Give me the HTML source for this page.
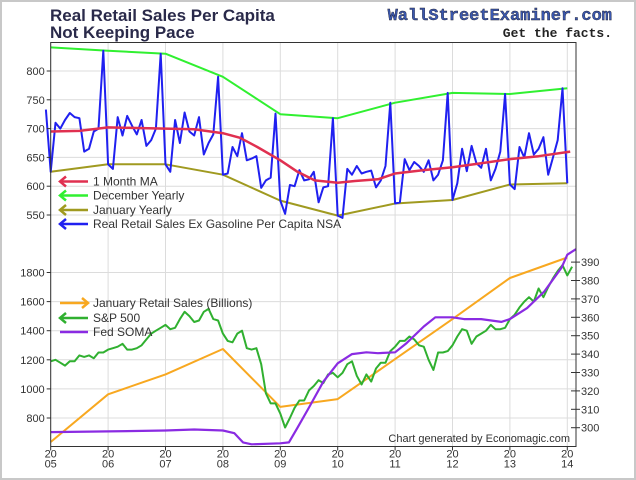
<!DOCTYPE html>
<html><head><meta charset="utf-8">
<style>
html,body{margin:0;padding:0;background:#fff;}
#wrap{position:relative;width:636px;height:480px;overflow:hidden;}
svg text{font-family:"Liberation Sans",sans-serif;}
</style></head>
<body>
<div id="wrap">
<svg id="chart" width="636" height="480" xmlns="http://www.w3.org/2000/svg">
<rect x="1" y="1" width="634" height="478" fill="#fff" stroke="#c8c8c8" stroke-width="2"/>
<text x="50" y="21" font-size="17" font-weight="bold" fill="#2a2a4a">Real Retail Sales Per Capita</text>
<text x="50" y="38" font-size="17" font-weight="bold" fill="#2a2a4a">Not Keeping Pace</text>
<text x="612" y="20" text-anchor="end" font-family="Liberation Mono,monospace" font-size="17" font-weight="bold" fill="#3a58b0" stroke="#223" stroke-width="0.4" style="font-family:'Liberation Mono',monospace">WallStreetExaminer.com</text>
<text x="612" y="37" text-anchor="end" font-size="13" font-weight="bold" fill="#222" style="font-family:'Liberation Mono',monospace">Get the facts.</text>
<g id="grid"></g>
<g id="series"></g>
<g id="axes"></g>
<g id="legend"></g>
<text x="570" y="442" text-anchor="end" font-size="11" fill="#333">Chart generated by Economagic.com</text>
</svg>
</div>
<script>
// ---- data ----
const yearLabels = ["05","06","07","08","09","10","11","12","13","14"];
const topTicks = [800,750,700,650,600,550];
const botLeftTicks = [1800,1600,1400,1200,1000,800];
const botRightTicks = [390,380,370,360,350,340,330,320,310,300];
const decYearly = [841,835,830,790,725,718,745,762,760,770];
const janYearly = [625,638,638,620,575,549,570,576,603,605];
const maTimes = [2005.0,2005.5,2006.0,2006.5,2007.0,2007.5,2008.0,2008.3,2008.6,2009.0,2009.3,2009.6,2010.0,2010.3,2010.7,2011.0,2011.5,2012.0,2012.5,2013.0,2013.5,2014.05];
const maValues = [695,696,702,701,700,699,692,684,668,645,625,610,606,609,612,622,628,633,640,647,652,660];
const retailMonthly = [733,
625,710,700,715,727,720,718,660,665,695,700,835,
638,630,720,688,722,705,690,715,670,680,700,830,
638,625,715,675,728,695,688,720,655,675,690,790,
620,622,668,652,692,645,648,652,597,610,615,726,
575,552,602,600,628,610,612,625,572,598,600,718,
549,545,630,620,635,622,625,627,598,610,635,745,
570,572,647,628,642,635,625,645,610,620,645,762,
576,605,665,626,670,640,632,665,610,630,660,760,
603,595,668,650,692,655,665,685,620,650,680,770,
605];
const janRetail = [635,963,1100,1274,876,930,1205,1480,1762,1903];
const spx = [1190,1200,1180,1160,1190,1190,1230,1220,1230,1210,1250,1250,
1270,1280,1290,1310,1270,1270,1280,1300,1340,1380,1400,1420,
1440,1410,1420,1480,1530,1500,1460,1470,1530,1550,1480,1470,
1380,1330,1320,1380,1400,1280,1270,1280,1170,970,900,900,
830,735,800,870,920,920,990,1020,1060,1040,1100,1110,
1080,1110,1170,1190,1090,1030,1100,1050,1140,1180,1180,1260,
1290,1330,1330,1360,1340,1300,1290,1200,1130,1250,1250,1260,
1300,1360,1410,1400,1310,1360,1380,1400,1440,1410,1410,1420,
1480,1510,1560,1600,1630,1600,1690,1630,1700,1760,1810,1850,
1780,1840];
const somaTimes = [2005.0,2006.0,2007.0,2007.5,2008.0,2008.2,2008.35,2008.5,2009.0,2009.15,2009.3,2009.5,2009.75,2010.0,2010.25,2010.5,2010.7,2011.0,2011.2,2011.5,2011.7,2012.0,2012.2,2012.5,2012.85,2013.0,2013.3,2013.6,2013.9,2014.0,2014.15];
const somaValues = [297.6,298,298.5,299,298.5,297,292,291,291.5,292,300,311,325,335,340,341,340.5,341,346,355,360,360,359,359,357.5,359,365,374,387,394,397];

// ---- axes ----
const L=50.7,R=576,T=42.5,B=446.5;
const X=t=>L+(t-2005)*57.4;
const YT=v=>71+(800-v)*0.576;
const YL=v=>418-(v-800)*0.1455;
const YR=v=>427.7-(v-300)*1.84;
const NS="http://www.w3.org/2000/svg";
function mk(tag,attrs,parent){const e=document.createElementNS(NS,tag);for(const k in attrs)e.setAttribute(k,attrs[k]);parent.appendChild(e);return e;}
const grid=document.getElementById('grid'),ser=document.getElementById('series'),ax=document.getElementById('axes'),leg=document.getElementById('legend');

yearLabels.forEach((lab,i)=>{
  const x=X(2005+i);
  const g=mk('line',{x1:x,x2:x,y1:T,y2:B,stroke:'#dcdcdc','stroke-width':1},grid);
  
  
  const tk=mk('line',{x1:x,x2:x,y1:B,y2:B+4,stroke:'#333'},ax);
  
  
  const t1=mk('text',{x:x,y:B+11,'text-anchor':'middle','font-size':11,fill:'#333'},ax);t1.textContent='20';
  
  
  const t2=mk('text',{x:x,y:B+21,'text-anchor':'middle','font-size':11,fill:'#333'},ax);t2.textContent=lab;
  
  
});
topTicks.forEach(v=>{
  const y=YT(v);
  const g=mk('line',{x1:L,x2:R,y1:y,y2:y,stroke:'#dcdcdc'},grid);
  
  
  mk('line',{x1:L-4,x2:L,y1:y,y2:y,stroke:'#333'},ax);
  const t=mk('text',{x:L-6,y:y+4,'text-anchor':'end','font-size':11,fill:'#333'},ax);t.textContent=v;
  
  
});
botLeftTicks.forEach(v=>{
  const y=YL(v);
  const g=mk('line',{x1:L,x2:R,y1:y,y2:y,stroke:'#dcdcdc'},grid);
  
  
  mk('line',{x1:L-4,x2:L,y1:y,y2:y,stroke:'#333'},ax);
  const t=mk('text',{x:L-6,y:y+4,'text-anchor':'end','font-size':11,fill:'#333'},ax);t.textContent=v;
  
  
});
botRightTicks.forEach(v=>{
  const y=YR(v);
  mk('line',{x1:R-5,x2:R+4,y1:y,y2:y,stroke:'#333'},ax);
  const t=mk('text',{x:R+5,y:y+4,'font-size':11,fill:'#333'},ax);t.textContent=v;
  
  
});
const frame=mk('rect',{x:L,y:T,width:R-L,height:B-T,fill:'none',stroke:'#333','stroke-width':1},ax);



function line(pts,color,w,name){
  const p=mk('polyline',{points:pts.map(a=>a[0].toFixed(1)+','+a[1].toFixed(1)).join(' '),fill:'none',stroke:color,'stroke-width':w,'stroke-linejoin':'round'},ser);
  
  
}
line(janRetail.map((v,i)=>[X(2005+i),YL(v)]),'#f8a820',2,'january-retail-sales-line');
line(spx.map((v,i)=>[X(2005+i/12),YL(v)]),'#30b030',2,'sp500-line');
line(somaTimes.map((t,i)=>[X(t),YR(somaValues[i])]),'#8a2be2',2.2,'fed-soma-line');
line(janYearly.map((v,i)=>[X(2005+i),YT(v)]),'#a09a20',2,'january-yearly-line');
line(decYearly.map((v,i)=>[X(2005+i),YT(v)]),'#30f030',2,'december-yearly-line');
line(retailMonthly.map((v,i)=>[X(2005+(i-1)/12),YT(v)]),'#2020f0',2,'real-retail-sales-line');
line(maTimes.map((t,i)=>[X(t),YT(maValues[i])]),'#e03050',2.5,'moving-average-line');

function legendItem(y,color,text,right,name){
  const g=mk('g',{},leg);
  
  
  mk('line',{x1:60,x2:88,y1:y,y2:y,stroke:color,'stroke-width':2.5},g);
  if(right) mk('polyline',{points:`82,${y-5} 88,${y} 82,${y+5}`,fill:'none',stroke:color,'stroke-width':2.5},g);
  else mk('polyline',{points:`66,${y-5} 60,${y} 66,${y+5}`,fill:'none',stroke:color,'stroke-width':2.5},g);
  const t=mk('text',{x:93,y:y+4,'font-size':12,fill:'#333'},g);t.textContent=text;
}
legendItem(181.5,'#e03050','1 Month MA',false,'legend-moving-average');
legendItem(195.5,'#30f030','December Yearly',false,'legend-december-yearly');
legendItem(210,'#a09a20','January Yearly',false,'legend-january-yearly');
legendItem(224,'#2020f0','Real Retail Sales Ex Gasoline Per Capita NSA',false,'legend-real-retail-sales');
legendItem(303,'#f8a820','January Retail Sales (Billions)',true,'legend-january-retail-sales');
legendItem(318,'#30b030','S&P 500',false,'legend-sp500');
const sg=mk('g',{},leg);


mk('line',{x1:60,x2:88,y1:332,y2:332,stroke:'#8a2be2','stroke-width':2.5},sg);
const st=mk('text',{x:93,y:336,'font-size':12,fill:'#333'},sg);st.textContent='Fed SOMA';
</script>
</body></html>
